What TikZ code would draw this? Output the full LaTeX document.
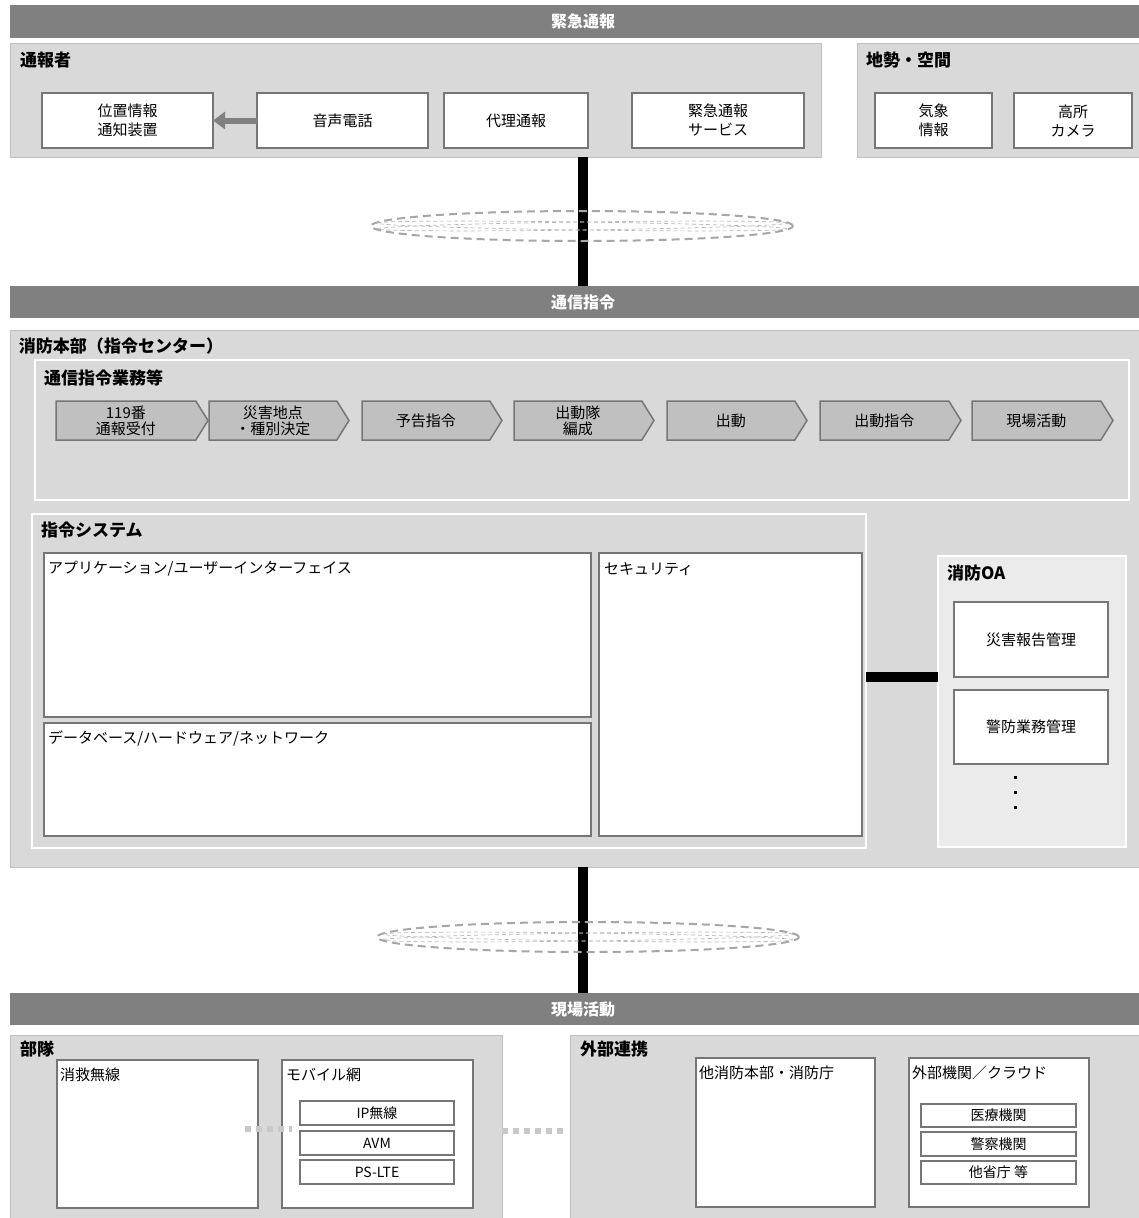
\documentclass[tikz,border=0pt]{standalone}
\usepackage{fontspec}
\setmainfont{Noto Sans CJK JP}
\usetikzlibrary{shapes.symbols,arrows.meta}
\definecolor{barc}{HTML}{808080}
\definecolor{panc}{HTML}{D9D9D9}
\definecolor{panl}{HTML}{BFBFBF}
\definecolor{boxl}{HTML}{767676}
\definecolor{chevc}{HTML}{C0C0C0}
\definecolor{oac}{HTML}{EBEBEB}
\definecolor{ellc}{HTML}{A6A6A6}
\definecolor{dotc}{HTML}{C8C8C8}
\newcommand\R[7]{\node[#2,anchor=north west,minimum width={#5pt-#3pt},minimum height={#6pt-#4pt}] (#1) at (#3,#4) {#7};}
\tikzset{
  base/.style={inner sep=0pt,outer sep=0pt},
  barbox/.style={base,fill=barc,draw=none,text=white,font=\bfseries\fontsize{16}{18}\selectfont},
  panel/.style={base,fill=panc,draw=panl,line width=1pt},
  wpanel/.style={base,fill=panc,draw=white,line width=2.5pt},
  oapanel/.style={base,fill=oac,draw=white,line width=2.5pt},
  wbox/.style={base,fill=white,draw=boxl,line width=1.8pt,align=center,font=\fontsize{15}{19}\selectfont},
  sbox/.style={base,fill=white,draw=boxl,line width=1.5pt,align=center,font=\fontsize{14}{15}\selectfont},
  chev/.style={base,shape=signal,signal to=east,signal pointer angle=116,fill=chevc,draw=boxl,line width=1.5pt,align=center,font=\fontsize{15}{16}\selectfont,minimum height=39pt,anchor=west},
  ttl/.style={base,anchor=west,font=\bfseries\fontsize{17}{19}\selectfont},
  lbl/.style={base,anchor=west,font=\fontsize{15}{16}\selectfont},
  link/.style={line width=10pt,black},
  dotlink/.style={line width=6pt,dotc,dash pattern=on 6pt off 5pt},
  ring/.style={ellc,line width=2pt,dash pattern=on 8pt off 5pt},
  thinring/.style={ellc!80,line width=0.7pt,dash pattern=on 4pt off 3pt},
}
\begin{document}
\begin{tikzpicture}[x=1pt,y=-1pt]
\path[use as bounding box,fill=white] (0,0) rectangle (1138,1218);
% ---------- top ----------
\R{bar1}{barbox}{10}{5}{1156}{38}{緊急通報}
\R{tsuho}{panel}{10}{43}{821}{157}{}
\R{chisei}{panel}{857}{43}{1140}{157}{}
\node[ttl] (t1) at (20,60) {通報者};
\node[ttl] (t2) at (866,60) {地勢・空間};
\R{ichi}{wbox}{42}{93}{213}{148}{位置情報\\通知装置}
\R{onsei}{wbox}{257}{93}{428}{148}{音声電話}
\R{dairi}{wbox}{444}{93}{588}{148}{代理通報}
\R{kinkyu}{wbox}{632}{93}{804}{148}{緊急通報\\サービス}
\R{kisho}{wbox}{875}{93}{992}{148}{気象\\情報}
\R{kosho}{wbox}{1014}{93}{1132}{148}{高所\\カメラ}
\draw[barc,line width=6pt,-{Triangle[length=12pt,width=17pt]}] (onsei.west) -- (ichi.east);
% ---------- middle bar ----------
\R{bar2}{barbox}{10}{286}{1156}{318}{通信指令}
\coordinate (cx) at (583,0);
\draw[link] (tsuho.south -| cx) -- (bar2.north -| cx);
\draw[ring] (582,226) ellipse [x radius=211pt,y radius=15pt];
\draw[thinring,rotate around={0.8:(582,226)}] (582,226) ellipse [x radius=205pt,y radius=4pt];
\draw[thinring,rotate around={-0.8:(582,226)}] (582,226) ellipse [x radius=205pt,y radius=4pt];
% ---------- headquarters ----------
\R{honbu}{panel}{10}{330}{1140}{867}{}
\node[ttl] (t3) at (19,346) {消防本部（指令センター）};
\R{gyomu}{wpanel}{35}{360}{1129}{500}{}
\node[ttl] (t4) at (44,378) {通信指令業務等};
\node[chev,minimum width=152pt] (p1) at (56,420.5) {119番\\通報受付};
\node[chev,minimum width=140pt] (p2) at (209,420.5) {災害地点\\・種別決定};
\node[chev,minimum width=140pt] (p3) at (362,420.5) {予告指令};
\node[chev,minimum width=140pt] (p4) at (514,420.5) {出動隊\\編成};
\node[chev,minimum width=140pt] (p5) at (667,420.5) {出動};
\node[chev,minimum width=141pt] (p6) at (820,420.5) {出動指令};
\node[chev,minimum width=141pt] (p7) at (972,420.5) {現場活動};
\R{shirei}{wpanel}{32}{514}{866}{848}{}
\node[ttl] (t5) at (41,530) {指令システム};
\R{app}{wbox}{44}{553}{591}{717}{}
\R{db}{wbox}{44}{723}{591}{836}{}
\R{sec}{wbox}{599}{553}{862}{836}{}
\node[lbl] (l1) at (48,569) {アプリケーション/ユーザーインターフェイス};
\node[lbl] (l2) at (48,738) {データベース/ハードウェア/ネットワーク};
\node[lbl] (l3) at (604,569) {セキュリティ};
\R{oa}{oapanel}{938}{556}{1126}{847}{}
\node[ttl] (t6) at (947,573) {消防OA};
\R{saigai}{wbox}{954}{602}{1108}{677}{災害報告管理}
\R{keibo}{wbox}{954}{690}{1108}{764}{警防業務管理}
\foreach \yy in {777,792,807} \fill[black] (1013.5,\yy-1.5) rectangle (1016.5,\yy+1.5);
\coordinate (cy) at (0,677);
\draw[link] (shirei.east |- cy) -- (oa.west |- cy);
% ---------- bottom ----------
\R{bar3}{barbox}{10}{993}{1156}{1025}{現場活動}
\draw[link] (honbu.south -| cx) -- (bar3.north -| cx);
\draw[ring] (588,937) ellipse [x radius=211pt,y radius=15pt];
\draw[thinring,rotate around={0.8:(588,937)}] (588,937) ellipse [x radius=205pt,y radius=4pt];
\draw[thinring,rotate around={-0.8:(588,937)}] (588,937) ellipse [x radius=205pt,y radius=4pt];
\R{butai}{panel}{10}{1035}{502}{1220}{}
\node[ttl] (t7) at (20,1049) {部隊};
\R{shokyu}{wbox}{57}{1060}{258}{1208}{}
\R{mobile}{wbox}{282}{1060}{473}{1208}{}
\node[lbl] (l4) at (60,1075) {消救無線};
\node[lbl] (l5) at (286,1075) {モバイル網};
\R{ip}{sbox}{300}{1101}{454}{1125}{IP無線}
\R{avm}{sbox}{300}{1131}{454}{1155}{AVM}
\R{ps}{sbox}{300}{1160}{454}{1184}{PS-LTE}
\R{gaibu}{panel}{570}{1035}{1140}{1220}{}
\node[ttl] (t8) at (580,1049) {外部連携};
\R{tashobo}{wbox}{696}{1058}{875}{1207}{}
\R{kikan}{wbox}{909}{1058}{1089}{1207}{}
\node[lbl] (l6) at (699,1073) {他消防本部・消防庁};
\node[lbl] (l7) at (912,1073) {外部機関／クラウド};
\R{iryo}{sbox}{921}{1104}{1076}{1127}{医療機関}
\R{keisatsu}{sbox}{921}{1132}{1076}{1156}{警察機関}
\R{tasho}{sbox}{921}{1161}{1076}{1184}{他省庁 等}
\coordinate (d1) at (245,1129);
\draw[dotlink] (d1) -- (mobile.west |- d1) -- ++(10,0);
\coordinate (d2) at (0,1131);
\draw[dotlink] (butai.east |- d2) -- ([xshift=-5pt]gaibu.west |- d2);
\end{tikzpicture}
\end{document}
